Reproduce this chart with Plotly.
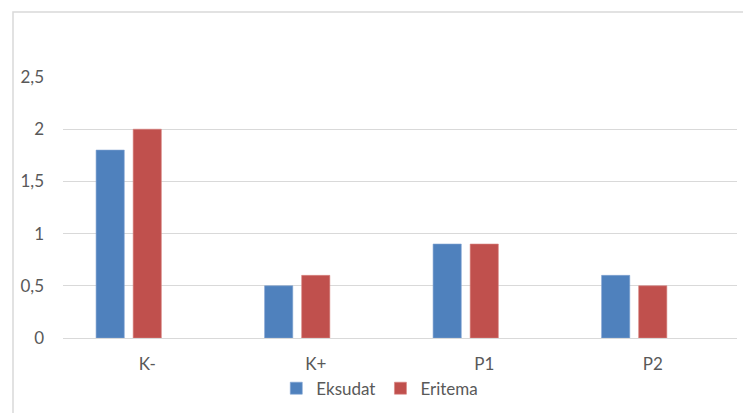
import plotly.graph_objects as go

categories = ["K-", "K+", "P1", "P2"]
eksudat = [1.8, 0.5, 0.9, 0.6]
eritema = [2.0, 0.6, 0.9, 0.5]
placeholder = [0, 0, 0, 0]  # empty third series slot (as in the source chart)
y_ticks = [0, 0.5, 1, 1.5, 2, 2.5]
y_tick_text = ["0", "0,5", "1", "1,5", "2", "2,5"]

BLUE = "#4F81BD"
RED = "#C0504D"
GRID = "#D9D9D9"
TXT = "#595959"
FONT = "Lato"
FS = 17

fig = go.Figure()
fig.add_trace(go.Bar(name="Eksudat", x=categories, y=eksudat, marker=dict(color=BLUE, line=dict(color="#7fa3d1", width=0.6))))
fig.add_trace(go.Bar(name="Eritema", x=categories, y=eritema, marker=dict(color=RED, line=dict(color="#d98582", width=0.6))))
fig.add_trace(go.Bar(name="", x=categories, y=placeholder, showlegend=False, hoverinfo="skip",
                     marker=dict(color="rgba(0,0,0,0)", line=dict(width=0))))

W, H = 743, 413
L, R, T, B = 63, 6, 77, 75
pw, ph = W - L - R, H - T - B
bx = (13 - L) / pw
by = (H - B - 12) / ph

fig.update_layout(
    width=W, height=H,
    margin=dict(l=L, r=R, t=T, b=B),
    paper_bgcolor="white", plot_bgcolor="white",
    barmode="group", bargap=0.34, bargroupgap=0.24,
    font=dict(family=FONT, size=FS, color=TXT),
    showlegend=True,
    legend=dict(orientation="h", x=0.47, xanchor="center", y=-0.125, yanchor="top",
                font=dict(family=FONT, size=FS, color=TXT), itemwidth=30,
                traceorder="normal", tracegroupgap=0),
    xaxis=dict(showgrid=False, showline=False, ticks="", ticklabelstandoff=14,
               tickfont=dict(family=FONT, size=FS, color=TXT)),
    yaxis=dict(range=[0, 2.5], tickvals=y_ticks, ticktext=y_tick_text,
               showgrid=True, gridcolor=GRID, gridwidth=1, zeroline=True,
               zerolinecolor=GRID, zerolinewidth=1, showline=False, ticks="",
               ticklabelstandoff=18, tickfont=dict(family=FONT, size=FS, color=TXT)),
    shapes=[dict(type="rect", xref="paper", yref="paper", x0=bx, x1=1.2, y0=-0.5, y1=by,
                 line=dict(color=GRID, width=1.5), fillcolor="rgba(0,0,0,0)", layer="below")],
)

fig.write_html("out.html")
